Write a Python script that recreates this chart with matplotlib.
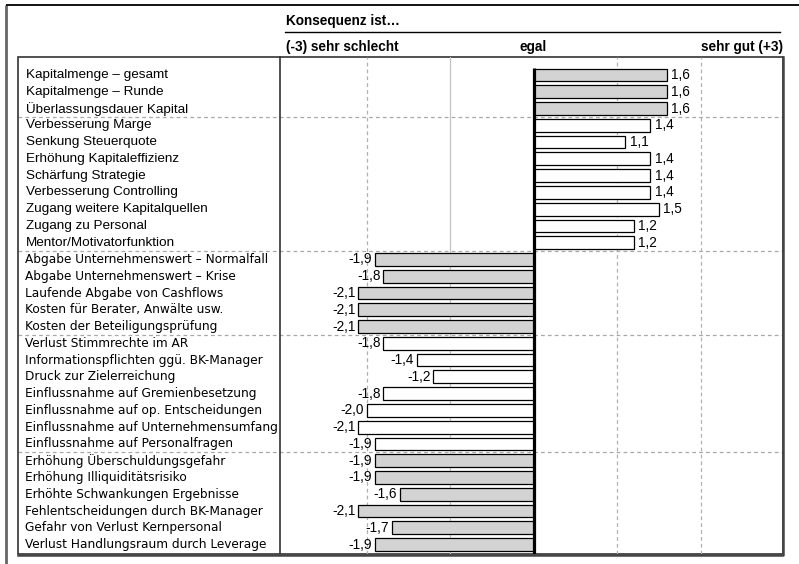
import matplotlib
matplotlib.use("Agg")
import matplotlib.pyplot as plt
from matplotlib.patches import Rectangle

W, H = 799, 564

# Items, grouped into five blocks (top to bottom)
labels = [
    "Kapitalmenge – gesamt",
    "Kapitalmenge – Runde",
    "Überlassungsdauer Kapital",
    "Verbesserung Marge",
    "Senkung Steuerquote",
    "Erhöhung Kapitaleffizienz",
    "Schärfung Strategie",
    "Verbesserung Controlling",
    "Zugang weitere Kapitalquellen",
    "Zugang zu Personal",
    "Mentor/Motivatorfunktion",
    "Abgabe Unternehmenswert – Normalfall",
    "Abgabe Unternehmenswert – Krise",
    "Laufende Abgabe von Cashflows",
    "Kosten für Berater, Anwälte usw.",
    "Kosten der Beteiligungsprüfung",
    "Verlust Stimmrechte im AR",
    "Informationspflichten ggü. BK-Manager",
    "Druck zur Zielerreichung",
    "Einflussnahme auf Gremienbesetzung",
    "Einflussnahme auf op. Entscheidungen",
    "Einflussnahme auf Unternehmensumfang",
    "Einflussnahme auf Personalfragen",
    "Erhöhung Überschuldungsgefahr",
    "Erhöhung Illiquiditätsrisiko",
    "Erhöhte Schwankungen Ergebnisse",
    "Fehlentscheidungen durch BK-Manager",
    "Gefahr von Verlust Kernpersonal",
    "Verlust Handlungsraum durch Leverage",
]
values = [1.6, 1.6, 1.6,
          1.4, 1.1, 1.4, 1.4, 1.4, 1.5, 1.2, 1.2,
          -1.9, -1.8, -2.1, -2.1, -2.1,
          -1.8, -1.4, -1.2, -1.8, -2.0, -2.1, -1.9,
          -1.9, -1.9, -1.6, -2.1, -1.7, -1.9]
group_sizes = [3, 8, 5, 7, 6]
group_fills = ["#d3d3d3", "white", "#d3d3d3", "white", "#d3d3d3"]

header = "Konsequenz ist…"
scale_left = "(-3) sehr schlecht"
scale_mid = "egal"
scale_right = "sehr gut (+3)"

SANS = "Liberation Sans"
ALT = "DejaVu Sans"

fills = []
for size, col in zip(group_sizes, group_fills):
    fills += [col] * size
rows = list(range(len(values)))

fig = plt.figure(figsize=(W / 100, H / 100), dpi=100)

# Pixel-space overlay for frame, header and item labels
bg = fig.add_axes([0, 0, 1, 1], zorder=0)
bg.set_xlim(0, W)
bg.set_ylim(H, 0)
bg.axis("off")

box_l, box_r, box_t, box_b = 18, 783, 57, 554
div_x = 280

# outer page rules
bg.plot([6, 6], [5, H], color="#666666", lw=2.0, solid_capstyle="butt")
bg.plot([6, W], [5, 5], color="#111111", lw=1.4, solid_capstyle="butt")

# header
bg.text(286, 25, header, fontsize=9.8, fontweight="bold", family=SANS,
        ha="left", va="baseline")
bg.plot([285, 780], [31.5, 31.5], color="black", lw=1.0)
bg.text(286, 51, scale_left, fontsize=9.8, fontweight="bold", family=SANS,
        ha="left", va="baseline")
bg.text(533, 51, scale_mid, fontsize=9.8, fontweight="bold", family=SANS,
        ha="center", va="baseline")
bg.text(783, 51, scale_right, fontsize=9.8, fontweight="bold", family=SANS,
        ha="right", va="baseline")

# bar area
ax = fig.add_axes([div_x / W, (H - box_b) / H, (box_r - div_x) / W,
                   (box_b - box_t) / H], zorder=1)
px_per_unit = 83.5
zero_px = 533.5
ax.set_xlim(-(zero_px - div_x) / px_per_unit, (box_r - zero_px) / px_per_unit)
row_px = 16.77
first_row_px = 75
ax.set_ylim((box_b - first_row_px) / row_px, (box_t - first_row_px) / row_px)
ax.patch.set_alpha(0)
for s in ax.spines.values():
    s.set_visible(False)
ax.set_xticks([])
ax.set_yticks([])

# vertical guides
for gx in (-2, 1, 2):
    ax.axvline(gx, color="#b0b0b0", lw=0.9, ls=(0, (3, 2.5)), zorder=0)
ax.axvline(-1, color="#c4c4c4", lw=0.9, zorder=0)

# group separators across whole box (label column included)
y0, y1 = ax.get_ylim()
bounds = []
acc = 0
for size in group_sizes[:-1]:
    acc += size
    bounds.append(acc - 0.5)
for b in bounds:
    ypx = first_row_px + b * row_px
    bg.plot([box_l, box_r], [ypx, ypx], color="#a8a8a8", lw=0.9,
            ls=(0, (3, 2.5)), zorder=1)

bars = ax.barh(rows, values, height=0.76, color=fills, edgecolor="black",
               linewidth=0.9, zorder=2)

for r, v in zip(rows, values):
    txt = f"{v:.1f}".replace(".", ",")
    if v >= 0:
        ax.annotate(txt, (v, r), xytext=(3, 0), textcoords="offset points",
                    ha="left", va="center", fontsize=9.8, family=SANS)
    else:
        ax.annotate(txt, (v, r), xytext=(-2, 0), textcoords="offset points",
                    ha="right", va="center", fontsize=9.8, family=SANS)

# zero line
ax.plot([0, 0], [-0.42, y0], color="black", lw=2.3, zorder=3,
        solid_capstyle="butt")

# item labels
for r, lab in enumerate(labels):
    ypx = first_row_px + r * row_px
    if r < 11:
        bg.text(26, ypx, lab, fontsize=9.7, family=SANS, ha="left",
                va="center")
    else:
        bg.text(25, ypx, lab, fontsize=8.7, family=ALT, ha="left",
                va="center")

# box and column divider
bg.add_patch(Rectangle((box_l, box_t), box_r - box_l, box_b - box_t,
                       fill=False, edgecolor="#333333", lw=1.2, zorder=3))
bg.plot([div_x, div_x], [box_t, box_b], color="#333333", lw=1.2, zorder=3)
# slightly heavier right/bottom edges
bg.plot([box_l, box_r, box_r], [box_b + 0.5, box_b + 0.5, box_t],
        color="#444444", lw=1.8, zorder=3)

fig.savefig("out.png", dpi=100)
